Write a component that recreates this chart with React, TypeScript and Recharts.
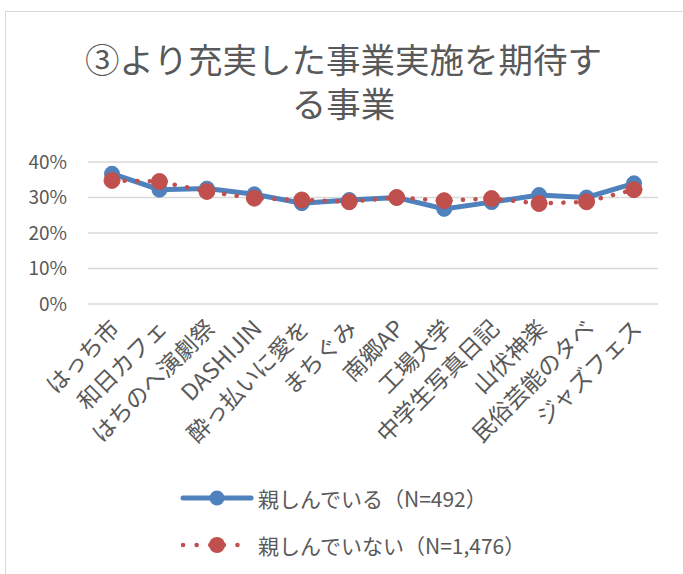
import { LineChart, Line, XAxis, YAxis, CartesianGrid } from "recharts";

const categories = [
  "はっち市",
  "和日カフェ",
  "はちのへ演劇祭",
  "DASHIJIN",
  "酔っ払いに愛を",
  "まちぐみ",
  "南郷AP",
  "工場大学",
  "中学生写真日記",
  "山伏神楽",
  "民俗芸能のタベ",
  "ジャズフェス",
];

// 親しんでいる（N=492）
const familiar = [36.7, 32.2, 32.5, 30.9, 28.4, 29.3, 30.0, 26.8, 28.7, 30.7, 30.0, 34.0];
// 親しんでいない（N=1,476）
const notFamiliar = [34.8, 34.5, 31.7, 29.8, 29.3, 28.8, 30.0, 29.1, 29.7, 28.3, 28.8, 32.2];

const yTicks = [0, 10, 20, 30, 40];

const seriesNames = ["親しんでいる（N=492）", "親しんでいない（N=1,476）"];

const data = categories.map((name, i) => ({
  name,
  familiar: familiar[i],
  notFamiliar: notFamiliar[i],
}));

const FONT = "'Noto Sans CJK JP', 'Noto Sans', sans-serif";
const TEXT = "#595959";
const BLUE = "#4F81BD";
const RED = "#C0504D";

function AngledTick({ x, y, payload }: any) {
  return (
    <text
      transform={`translate(${x + 9},${y + 18}) rotate(-45)`}
      textAnchor="end"
      fontSize={23}
      fill={TEXT}
      fontFamily={FONT}
    >
      {payload.value}
    </text>
  );
}

function ChartLegend() {
  return (
    <div style={{ fontFamily: FONT, color: TEXT, fontSize: 21 }}>
      <div style={{ display: "flex", alignItems: "center", height: 47 }}>
        <svg width={76} height={20} style={{ marginRight: 2 }}>
          <line x1={3} y1={10} x2={71} y2={10} stroke={BLUE} strokeWidth={5} strokeLinecap="round" />
          <circle cx={37} cy={10} r={7.5} fill={BLUE} />
        </svg>
        <span>{seriesNames[0]}</span>
      </div>
      <div style={{ display: "flex", alignItems: "center", height: 47 }}>
        <svg width={76} height={20} style={{ marginRight: 2 }}>
          <line
            x1={3}
            y1={10}
            x2={71}
            y2={10}
            stroke={RED}
            strokeWidth={4.5}
            strokeDasharray="0.1 13.5"
            strokeLinecap="round"
          />
          <circle cx={37} cy={10} r={8} fill={RED} />
        </svg>
        <span>{seriesNames[1]}</span>
      </div>
    </div>
  );
}

export default function App() {
  return (
    <div
      style={{
        position: "absolute",
        left: 0,
        top: 0,
        width: 683,
        height: 574,
        background: "#fff",
        overflow: "hidden",
        fontFamily: FONT,
      }}
    >
      <div
        style={{
          position: "absolute",
          left: 5,
          top: 11,
          width: 700,
          height: 600,
          borderLeft: "1.5px solid #d9d9d9",
          borderTop: "1.5px solid #d9d9d9",
        }}
      />
      <div
        style={{
          position: "absolute",
          left: 0,
          top: 36,
          width: 683,
          textAlign: "center",
          fontSize: 34.5,
          lineHeight: "44px",
          color: TEXT,
          paddingLeft: 2,
        }}
      >
        ③より充実した事業実施を期待す
        <br />
        る事業
      </div>
      <LineChart
        width={683}
        height={574}
        data={data}
        margin={{ top: 162, right: 25, left: 0, bottom: 100 }}
        style={{ position: "absolute", left: 0, top: 0 }}
      >
        <CartesianGrid vertical={false} stroke="#d9d9d9" strokeWidth={1.5} />
        <XAxis
          dataKey="name"
          axisLine={false}
          tickLine={false}
          interval={0}
          height={170}
          padding={{ left: 24, right: 24 }}
          tick={<AngledTick />}
        />
        <YAxis
          width={88}
          domain={[0, 40]}
          ticks={yTicks}
          tickFormatter={(v: number) => `${v}%`}
          axisLine={false}
          tickLine={false}
          tickMargin={15}
          tick={{ fontSize: 19, fill: TEXT, fontFamily: FONT }}
        />
        <Line
          dataKey="familiar"
          name={seriesNames[0]}
          stroke={BLUE}
          strokeWidth={5}
          dot={{ r: 7.5, fill: BLUE, stroke: BLUE, strokeWidth: 1 }}
          activeDot={false}
          isAnimationActive={false}
        />
        <Line
          dataKey="notFamiliar"
          name={seriesNames[1]}
          stroke={RED}
          strokeWidth={4.5}
          strokeDasharray="0.1 12.5"
          strokeLinecap="round"
          dot={{ r: 8, fill: RED, stroke: RED, strokeWidth: 1, strokeDasharray: "0" }}
          activeDot={false}
          isAnimationActive={false}
        />
      </LineChart>
      <div style={{ position: "absolute", left: 180, top: 474 }}>
        <ChartLegend />
      </div>
    </div>
  );
}
